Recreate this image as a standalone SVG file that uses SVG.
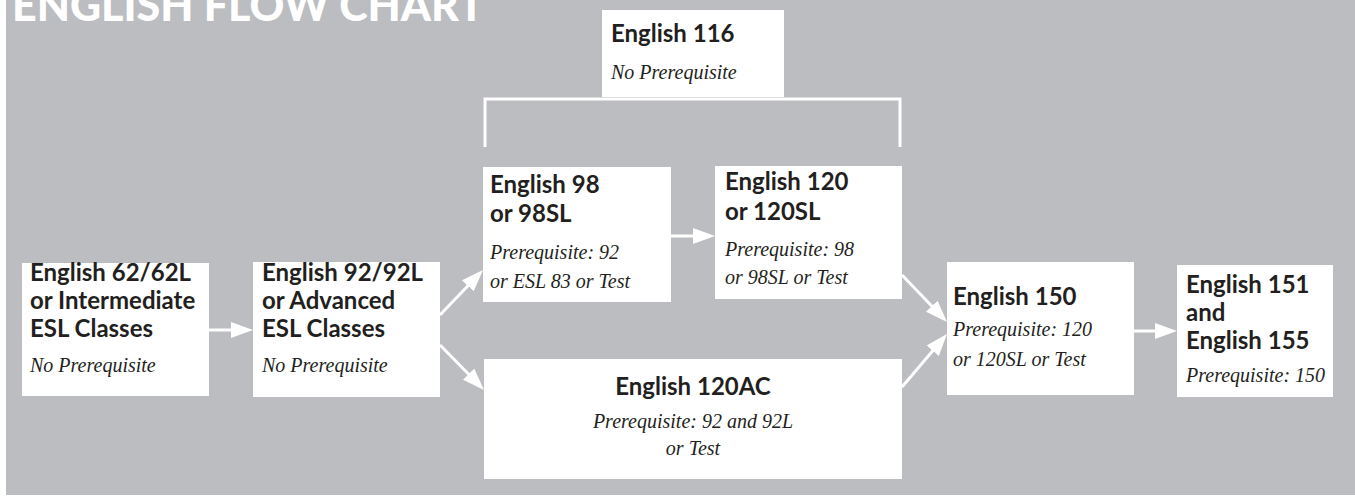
<svg xmlns="http://www.w3.org/2000/svg" width="1355" height="496" viewBox="0 0 1355 496">
<style>
.box{fill:#ffffff}
.t{font-family:Lato,"Noto Sans",sans-serif;font-weight:700;font-size:24px;fill:#231f20}
.p{font-family:"Liberation Serif",serif;font-style:italic;font-size:20px;fill:#231f20}
.c{stroke:#ffffff;stroke-width:3;fill:none}
.title{font-family:Lato,"Noto Sans",sans-serif;font-weight:900;font-size:43px;fill:#ffffff}
</style>
<defs>
<marker id="ah" markerUnits="userSpaceOnUse" markerWidth="22" markerHeight="16" refX="12" refY="8" orient="auto">
<path d="M0,0 L22,8 L0,16 z" fill="#ffffff"/>
</marker>
</defs>
<rect x="6" y="0" width="1349" height="495" fill="#bcbdc0"/>
<text class="title" x="12" y="21">ENGLISH FLOW CHART</text>

<g id="connectors">
<path class="c" d="M485,147 V99 H900 V147" stroke-width="4"/>
<path class="c" d="M209,330 L243,330" marker-end="url(#ah)"/>
<path class="c" d="M440,315 L476.1,277.2" marker-end="url(#ah)"/>
<path class="c" d="M440,345 L477,382.8" marker-end="url(#ah)"/>
<path class="c" d="M671,236 L705,236" marker-end="url(#ah)"/>
<path class="c" d="M902,275 L940.1,314.8" marker-end="url(#ah)"/>
<path class="c" d="M902,387 L940.5,341.6" marker-end="url(#ah)"/>
<path class="c" d="M1134,331 L1167,331" marker-end="url(#ah)"/>
</g>

<g id="n116">
<rect class="box" x="602" y="10" width="182" height="87"/>
<text class="t" x="611" y="42">English 116</text>
<text class="p" x="611" y="79">No Prerequisite</text>
</g>

<g id="n62">
<rect class="box" x="22" y="263" width="187" height="133"/>
<text class="t" x="30" y="281">English 62/62L</text>
<text class="t" x="30" y="309">or Intermediate</text>
<text class="t" x="30" y="337">ESL Classes</text>
<text class="p" x="30" y="372">No Prerequisite</text>
</g>

<g id="n92">
<rect class="box" x="253" y="262" width="187" height="135"/>
<text class="t" x="262" y="281">English 92/92L</text>
<text class="t" x="262" y="309">or Advanced</text>
<text class="t" x="262" y="337">ESL Classes</text>
<text class="p" x="262" y="372">No Prerequisite</text>
</g>

<g id="n98">
<rect class="box" x="483" y="167" width="188" height="135"/>
<text class="t" x="490" y="193">English 98</text>
<text class="t" x="490" y="222">or 98SL</text>
<text class="p" x="490" y="259">Prerequisite: 92</text>
<text class="p" x="490" y="288">or ESL 83 or Test</text>
</g>

<g id="n120">
<rect class="box" x="715" y="166" width="187" height="133"/>
<text class="t" x="725" y="190">English 120</text>
<text class="t" x="725" y="220">or 120SL</text>
<text class="p" x="725" y="256">Prerequisite: 98</text>
<text class="p" x="725" y="284">or 98SL or Test</text>
</g>

<g id="n120ac">
<rect class="box" x="484" y="359" width="418" height="120"/>
<text class="t" x="693" y="395" text-anchor="middle">English 120AC</text>
<text class="p" x="693" y="428" text-anchor="middle">Prerequisite: 92 and 92L</text>
<text class="p" x="693" y="455" text-anchor="middle">or Test</text>
</g>

<g id="n150">
<rect class="box" x="947" y="262" width="187" height="133"/>
<text class="t" x="953" y="305">English 150</text>
<text class="p" x="953" y="336">Prerequisite: 120</text>
<text class="p" x="953" y="366">or 120SL or Test</text>
</g>

<g id="n151">
<rect class="box" x="1177" y="265" width="156" height="132"/>
<text class="t" x="1186" y="293">English 151</text>
<text class="t" x="1186" y="321">and</text>
<text class="t" x="1186" y="349">English 155</text>
<text class="p" x="1186" y="382">Prerequisite: 150</text>
</g>
</svg>
